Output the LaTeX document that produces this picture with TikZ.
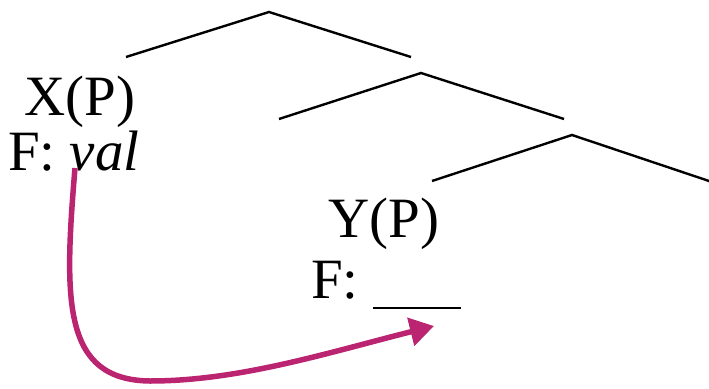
\documentclass[tikz,border=0pt]{standalone}
\usepackage{fontspec}
\setmainfont{Liberation Serif}
\usetikzlibrary{arrows.meta}
\definecolor{arrowmag}{RGB}{186,36,112}
\begin{document}
\begin{tikzpicture}[x=1pt,y=-1pt,
  lbl/.style={inner sep=0pt,font=\fontsize{57}{60}\selectfont},
  branch/.style={line width=2.4pt},
  move/.style={arrowmag,line width=5.5pt,-{Triangle[length=24pt,width=28pt]}}]
\useasboundingbox (0,0) rectangle (709,388);
% tree
\coordinate (a1) at (269,12);
\coordinate (l1) at (126,57);
\coordinate (r1) at (411,57);
\coordinate (a2) at (421,73);
\coordinate (l2) at (279,119);
\coordinate (r2) at (564,119);
\coordinate (a3) at (572,135);
\coordinate (l3) at (432,181);
\coordinate (r3) at (712,182);
\draw[branch] (l1) -- (a1) -- (r1);
\draw[branch] (l2) -- (a2) -- (r2);
\draw[branch] (l3) -- (a3) -- (r3);
% labels
\node[lbl,anchor=base] (xp) at (80,115) {X(P)};
\node[lbl,anchor=base west] (fx) at (8,170) {F: \textit{val}};
\node[lbl,anchor=base] (yp) at (384,237) {Y(P)};
\node[lbl,anchor=base west] (fy) at (311,298) {F: \rule[-10.5pt]{88pt}{1.6pt}};
% movement arrow
\coordinate (s) at (75,168);
\coordinate (e) at (434,326);
\draw[move] (s) .. controls (64,300) and (62,380) .. (150,381)
  .. controls (240,381) and (330,352) .. (e);
\end{tikzpicture}
\end{document}
